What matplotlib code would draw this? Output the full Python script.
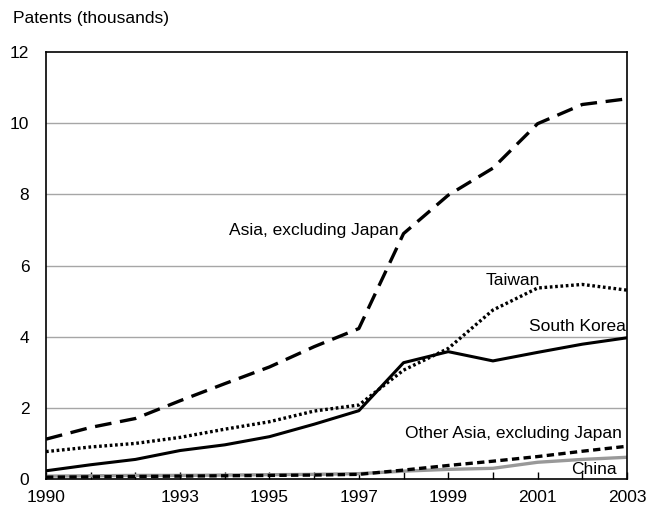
import numpy as np
import matplotlib
matplotlib.use("Agg")
import matplotlib.pyplot as plt
from matplotlib import font_manager

# Datos (miles de patentes)
years = list(range(1990, 2004))
asia_ex_japan = [1.12, 1.45, 1.70, 2.20, 2.68, 3.15, 3.72, 4.23, 6.90, 7.98, 8.74, 9.99, 10.53, 10.69]
taiwan = [0.77, 0.90, 1.00, 1.17, 1.40, 1.61, 1.91, 2.08, 3.06, 3.67, 4.75, 5.37, 5.47, 5.31]
south_korea = [0.23, 0.40, 0.55, 0.80, 0.96, 1.19, 1.54, 1.92, 3.27, 3.58, 3.32, 3.56, 3.79, 3.97]
other_asia = [0.05, 0.06, 0.07, 0.08, 0.09, 0.10, 0.11, 0.13, 0.25, 0.38, 0.50, 0.63, 0.78, 0.92]
china = [0.08, 0.09, 0.10, 0.10, 0.11, 0.12, 0.13, 0.15, 0.22, 0.27, 0.30, 0.47, 0.55, 0.61]

x_labels = [1990, 1993, 1995, 1997, 1999, 2001, 2003]
y_ticks = [0, 2, 4, 6, 8, 10, 12]

names = {f.name for f in font_manager.fontManager.ttflist}
fam = "Liberation Sans Narrow" if "Liberation Sans Narrow" in names else "Liberation Sans"
plt.rcParams["font.family"] = [fam, "DejaVu Sans"]
plt.rcParams["font.size"] = 12.5

fig = plt.figure(figsize=(6.67, 5.12), dpi=100)
ax = fig.add_axes([0.069, 0.0645, 0.871, 0.8335])

ax.plot(years, china, color="#999999", lw=2.4, solid_capstyle="butt")
ax.plot(years, other_asia, color="black", lw=2.4, dashes=(2.2, 1.3))
ax.plot(years, south_korea, color="black", lw=2.2)
ax.plot(years, taiwan, color="black", lw=2.4, dashes=(0.8, 0.8))
ax.plot(years, asia_ex_japan, color="black", lw=2.4, dashes=(5, 2.6))

ax.set_xlim(1990, 2003)
ax.set_ylim(0, 12)
ax.set_yticks(y_ticks)
ax.set_xticks(years)
ax.set_xticklabels([str(y) if y in x_labels else "" for y in years])
ax.tick_params(axis="x", direction="in", length=5, width=1, pad=8)
ax.tick_params(axis="y", length=0, pad=12)
for lab in ax.get_yticklabels():
    lab.set_horizontalalignment("right")

for y in y_ticks[1:-1]:
    ax.axhline(y, color="#a6a6a6", lw=1, zorder=0)
for s in ax.spines.values():
    s.set_linewidth(1.2)

ax.text(1997.88, 7.0, "Asia, excluding Japan", ha="right", va="center")
ax.text(2001.05, 5.59, "Taiwan", ha="right", va="center")
ax.text(2002.98, 4.3, "South Korea", ha="right", va="center")
ax.text(2002.88, 1.29, "Other Asia, excluding Japan", ha="right", va="center")
ax.text(2002.78, 0.28, "China", ha="right", va="center")

fig.text(13 / 667, 1 - 18 / 512, "Patents (thousands)", ha="left", va="center")

fig.savefig("out.png", dpi=100)
